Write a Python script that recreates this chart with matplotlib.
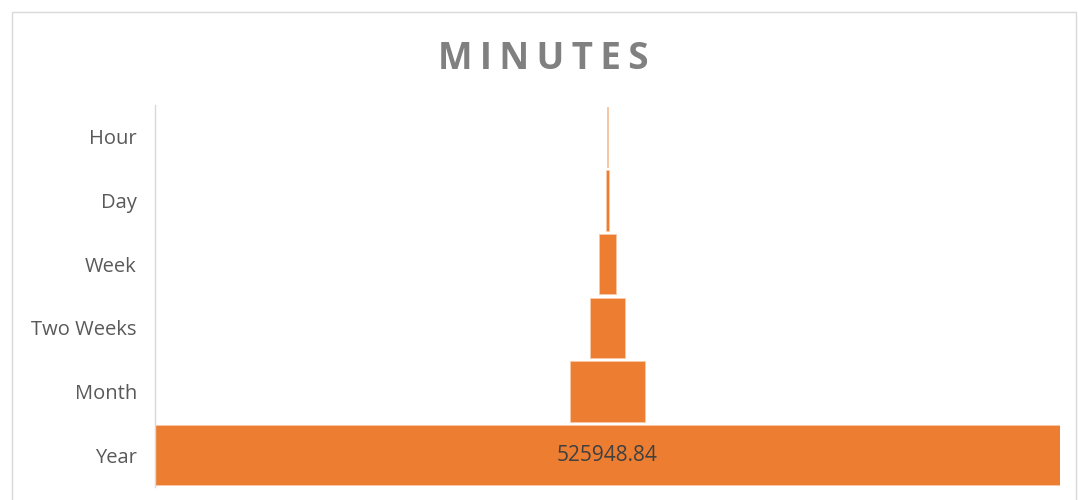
import matplotlib
matplotlib.use("Agg")
import matplotlib.pyplot as plt
from matplotlib.patches import Rectangle

categories = ["Hour", "Day", "Week", "Two Weeks", "Month", "Year"]
values = [60, 1440, 10080, 20160, 43829.07, 525948.84]
shown_labels = {"Year": "525948.84"}

W, H = 1078, 500
fig = plt.figure(figsize=(W / 100, H / 100), dpi=100)
fig.patch.set_facecolor("white")

# chart border
fig.add_artist(Rectangle((12 / W, -0.05), (1076 - 12) / W, (500 - 12) / H + 0.05,
                         transform=fig.transFigure, fill=False,
                         edgecolor="#d9d9d9", linewidth=1))

ax = fig.add_axes([155 / W, 13 / H, (1060 - 155) / W, (487 - 105) / H])
n = len(categories)
ys = [n - 1 - i for i in range(n)]
vmax = max(values)
for cat, v, y in zip(categories, values, ys):
    ax.barh(y, v, left=-v / 2, height=0.95, color="#ED7D31",
            edgecolor="#F8C9A8", linewidth=0.6)
    if cat in shown_labels:
        ax.text(0, y, shown_labels[cat], ha="center", va="center",
                fontsize=15, color="#404040", family="Open Sans")

ax.set_xlim(-vmax / 2, vmax / 2)
ax.set_ylim(-0.5, n - 0.5)
ax.set_yticks(ys)
ax.set_yticklabels(categories, fontsize=14.5, color="#595959", family="Open Sans")
ax.tick_params(axis="y", length=0, pad=13)
ax.set_xticks([])
for s in ["top", "right", "bottom"]:
    ax.spines[s].set_visible(False)
ax.spines["left"].set_color("#d9d9d9")
ax.spines["left"].set_linewidth(1)

fig.text(543 / W, 1 - 59 / H, "M I N U T E S".replace(" ", "\u2009"), ha="center", va="center",
         fontsize=26.5, fontweight="bold", color="#808080", family="Open Sans")

fig.savefig("out.png", dpi=100)
